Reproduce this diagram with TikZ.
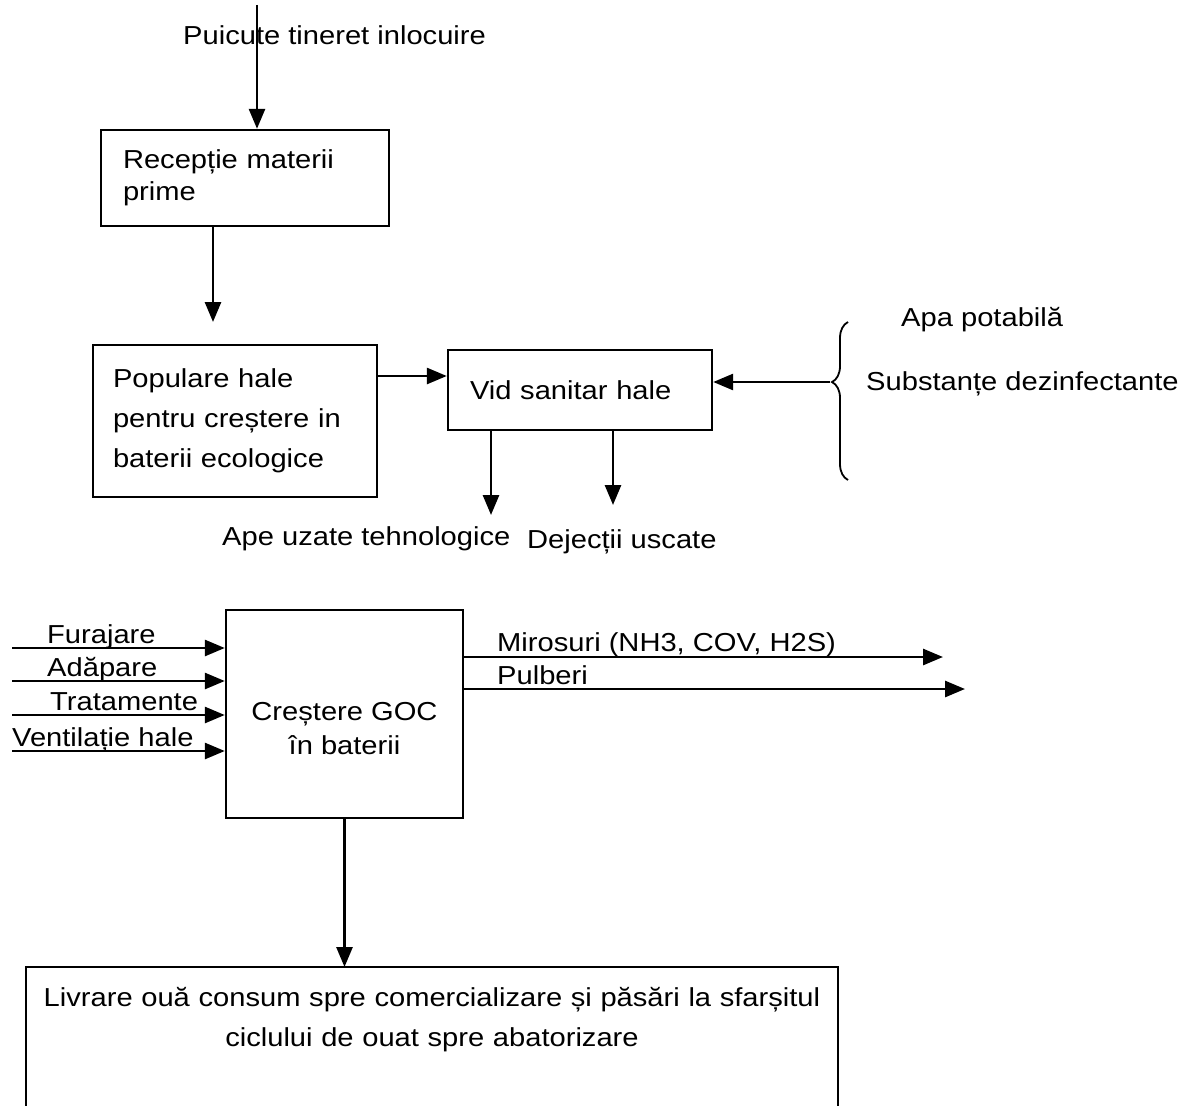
\documentclass[tikz,border=0pt]{standalone}
\usepackage{fontspec}
\setmainfont[FakeStretch=1.12]{Liberation Sans}
\usetikzlibrary{arrows.meta,decorations.pathreplacing}

\begin{document}
\begin{tikzpicture}[x=1pt,y=-1pt,
		box/.style={draw,line width=2.4pt,inner xsep=22pt,align=left},
		flow/.style={line width=2.8pt,-{Triangle[length=20pt,width=16pt]}},
		txt/.style={inner sep=0pt,font=\fontsize{26}{32}\selectfont}]
		\useasboundingbox (0,0) rectangle (1182,1105);
		% top chain
		\node [txt,anchor=base west] (young) at (183,45) {Puicute tineret inlocuire};
		\node [box,txt,inner xsep=22pt,minimum width=288pt,minimum height=96pt,text width=244pt] (recv) at (245,178) {Recepție materii\\prime};
		\node [box,txt,font=\fontsize{26}{40}\selectfont,minimum width=284pt,minimum height=152pt,text width=244pt] (pop) at (235,421) {Populare hale\\pentru creștere in\\baterii ecologice};
		\node [box,txt,inner xsep=22pt,minimum width=264pt,minimum height=80pt,text width=220pt] (vid) at (580,390) {Vid sanitar hale};
		\coordinate (src) at (257,5);
		\draw [flow] (src) -- (src |- recv.north);
		\coordinate (r2) at (213,322);
		\draw [flow] (r2 |- recv.south) -- (r2);
		\draw [flow] (pop.east |- 0,376) -- (vid.west |- 0,376);
		% inputs of the sanitary step
		\draw [line width=1.8pt,decorate,decoration={brace,amplitude=16pt,aspect=0.62}] (848,480) -- (848,322);
		\coordinate (brtip) at (830,382);
		\draw [flow] (brtip) -- (brtip -| vid.east);
		\node [txt,anchor=base west] (water) at (901,326) {Apa potabilă};
		\node [txt,anchor=base west] (disinf) at (866,390) {Substanțe dezinfectante};
		\coordinate (w1) at (491,515);
		\coordinate (w2) at (613,505);
		\draw [flow] (w1 |- vid.south) -- (w1);
		\draw [flow] (w2 |- vid.south) -- (w2);
		\node [txt,anchor=base west] (wastew) at (222,545) {Ape uzate tehnologice};
		\node [txt,anchor=base west] (manure) at (527,548) {Dejecții uscate};
		% rearing
		\node [box,txt,align=center,font=\fontsize{26}{34}\selectfont,minimum width=237pt,minimum height=208pt] (grow) at (344.5,714) {\raisebox{-23pt}[0pt][0pt]{\begin{tabular}{@{}c@{}}Creștere GOC\\în baterii\end{tabular}}};
		\foreach \y/\t/\x [count=\i] in {648/Furajare/47, 681/Adăpare/47, 715/Tratamente/50, 751/Ventilație hale/12} {
			\coordinate (in\i) at (12,\y);
			\draw [flow] (in\i) -- (in\i -| grow.west);
			\node [txt,anchor=base west] (inl\i) at (\x,\y-5) {\t};
		}
		\coordinate (out1) at (943,657);
		\coordinate (out2) at (965,689);
		\draw [flow] (out1 -| grow.east) -- (out1);
		\draw [flow] (out2 -| grow.east) -- (out2);
		\node [txt,anchor=base west] (smell) at (497,651) {Mirosuri (NH3, COV, H2S)};
		\node [txt,anchor=base west] (dust) at (497,684) {Pulberi};
		% delivery
		\node [txt,anchor=north,align=center,text width=800pt,inner ysep=0pt,font=\fontsize{26}{40}\selectfont] (deliver) at (432,987) {Livrare ouă consum spre comercializare și păsări la sfarșitul\\ciclului de ouat spre abatorizare};
		\coordinate (dl) at (26,1110);
		\coordinate (dr) at (838,1110);
		\draw [line width=2.4pt] (dl) -- (dl |- 0,967) -- (dr |- 0,967) -- (dr);
		\draw [flow] (grow.south) -- (grow.south |- 0,967);
	\end{tikzpicture}
\end{document}
